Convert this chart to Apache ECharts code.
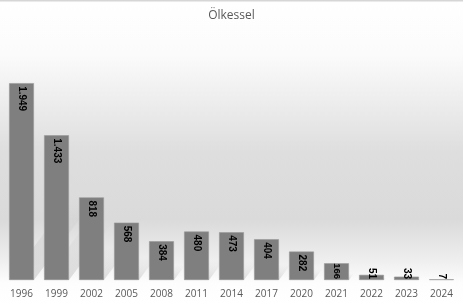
<!DOCTYPE html>
<html>
<head>
<meta charset="utf-8">
<script src="https://cdn.jsdelivr.net/npm/echarts@6/dist/echarts.min.js"></script>
<style>html,body{margin:0;padding:0;background:#fff}#c{width:463px;height:304px}</style>
</head>
<body>
<div id="c"></div>
<script>
const titleText = "Ölkessel";
const categories = ["1996","1999","2002","2005","2008","2011","2014","2017","2020","2021","2022","2023","2024"];
const values = [1949, 1433, 818, 568, 384, 480, 473, 404, 282, 166, 51, 33, 7];
const smallThreshold = 100;
const tightThreshold = 200;

function fmt(v){ return String(v).replace(/\B(?=(\d{3})+(?!\d))/g, "."); }

const chart = echarts.init(document.getElementById('c'), null, {renderer:'canvas'});
const barData = values.map(v => {
  if (v < smallThreshold) {
    return {value: v, label: {position: 'insideBottom', align: 'right', verticalAlign: 'middle', distance: 1}};
  }
  if (v < tightThreshold) {
    return {value: v, label: {distance: 0, fontSize: 9.5}};
  }
  return {value: v};
});
const shadowData = values.map((v, i) => [i, v]);

chart.setOption({
  backgroundColor: {
    type: 'linear', x: 0, y: 0, x2: 0, y2: 1,
    colorStops: [
      {offset: 0, color: '#ffffff'},
      {offset: 0.18, color: '#fbfbfb'},
      {offset: 0.5, color: '#dedede'},
      {offset: 0.72, color: '#dadada'},
      {offset: 0.86, color: '#efefef'},
      {offset: 0.93, color: '#fdfdfd'},
      {offset: 1, color: '#ffffff'}
    ]
  },
  animation: false,
  title: {
    text: titleText, left: 'center', top: 5,
    textStyle: {fontFamily: 'Open Sans', fontSize: 12, fontWeight: 'normal', color: '#595959'}
  },
  graphic: [{type: 'rect', shape: {x: 0, y: 0, width: 463, height: 1.5}, style: {fill: '#d6d6d6'}, silent: true}],
  grid: {left: 4, right: 4, top: 78, bottom: 24},
  xAxis: {
    type: 'category', data: categories,
    axisLine: {show: false}, axisTick: {show: false},
    axisLabel: {color: '#595959', fontFamily: 'Open Sans', fontSize: 10, margin: 9}
  },
  yAxis: {type: 'value', min: 0, max: 2000, show: false, splitLine: {show: false}},
  series: [
    {
      type: 'custom', z: 1, silent: true,
      data: shadowData,
      renderItem: function(params, api){
        const idx = api.value(0), v = api.value(1);
        const top = api.coord([idx, v]);
        const base = api.coord([idx, 0]);
        const w = api.size([1, 0])[0] * 0.71;
        const h = base[1] - top[1];
        const dx = 0.3 * h, dy = 0.4 * h;
        const x0 = base[0] - w/2, x1 = base[0] + w/2, y0 = base[1];
        return {
          type: 'polygon',
          shape: {points: [[x0, y0], [x1, y0], [x1 + dx, y0 - dy], [x0 + dx, y0 - dy]]},
          style: {
            fill: {
              type: 'linear', x: 0, y: 1, x2: 0, y2: 0,
              colorStops: [{offset: 0, color: 'rgba(110,110,110,0.22)'}, {offset: 0.6, color: 'rgba(130,130,130,0.08)'}, {offset: 1, color: 'rgba(150,150,150,0)'}]
            }
          }
        };
      }
    },
    {
      type: 'bar', z: 3,
      data: barData,
      barCategoryGap: '29%',
      itemStyle: {color: '#7f7f7f', borderColor: '#999999', borderWidth: 0.6},
      label: {
        show: true, position: 'insideTop', rotate: -90, align: 'left', verticalAlign: 'middle', distance: 3,
        color: '#000', fontFamily: 'Liberation Sans', fontSize: 10, fontWeight: 'bold',
        formatter: p => fmt(p.value)
      }
    }
  ]
});
</script>
</body>
</html>
